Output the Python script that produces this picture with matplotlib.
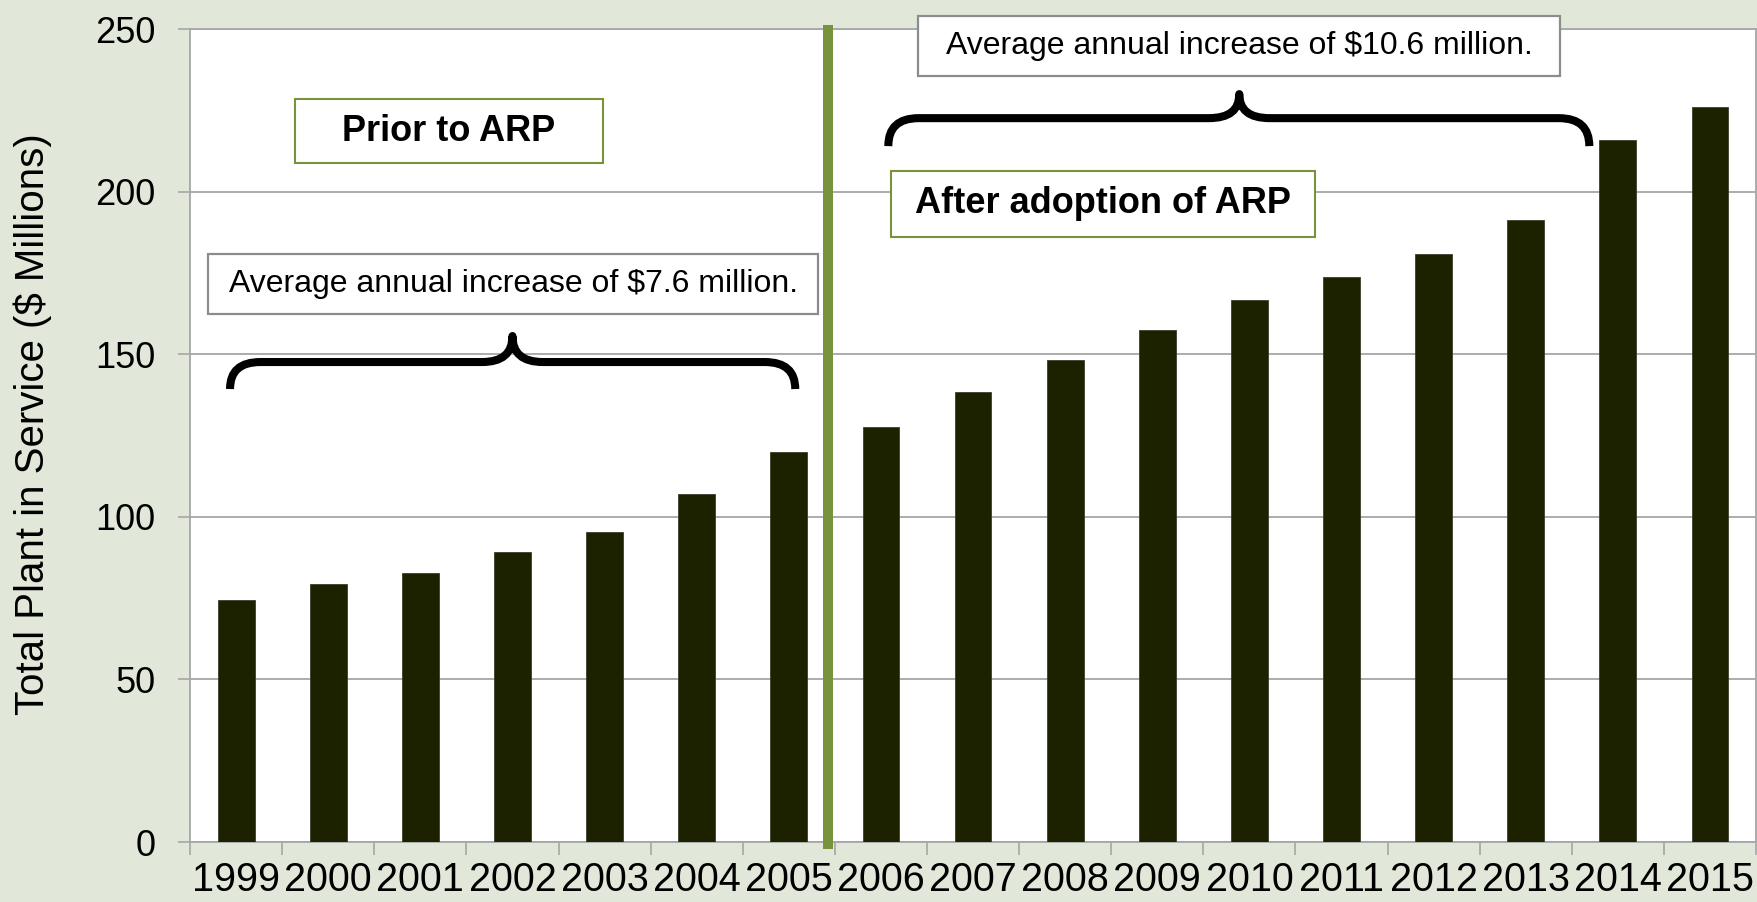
import matplotlib.pyplot as plt
from matplotlib.path import Path
from matplotlib.patches import PathPatch, Rectangle
import numpy as np

plt.rcParams['font.family'] = ['Liberation Sans', 'DejaVu Sans']

years = ["1999", "2000", "2001", "2002", "2003", "2004", "2005", "2006", "2007",
         "2008", "2009", "2010", "2011", "2012", "2013", "2014", "2015"]
plant = [74.5, 79.3, 82.8, 89.3, 95.2, 106.9, 120.0, 127.6, 138.3,
         148.3, 157.6, 166.6, 173.8, 180.7, 191.4, 215.9, 225.9]

bg = "#e1e8da"
olive = "#77933c"
grey = "#a6a6a6"

fig = plt.figure(figsize=(17.58, 9.02), dpi=100, facecolor=bg)
ax = fig.add_axes([0.1081, 0.0665, 0.8908, 0.9013])
ax.set_facecolor("white")

x = np.arange(len(years))
ax.bar(x, plant, width=0.4, color="#1c2200", edgecolor="#3a3f2a", linewidth=0.6, zorder=3)

ax.set_xlim(-0.5, len(years) - 0.5)
ax.set_ylim(0, 250)
ax.set_yticks(range(0, 251, 50))
ax.set_xticks(x)
ax.set_xticklabels(years)
ax.set_xticks(np.arange(-0.5, len(years), 1), minor=True)
ax.tick_params(axis="x", which="major", length=0, labelsize=28.5, pad=14)
ax.tick_params(axis="x", which="minor", length=9.4, width=1.2, color=grey, direction="out")
ax.tick_params(axis="y", length=8.6, width=1.2, color=grey, labelsize=26, pad=16)
ax.grid(axis="y", color=grey, linewidth=1.3, zorder=0)
for s in ax.spines.values():
    s.set_color(grey)
    s.set_linewidth(1.3)

ax.set_ylabel("Total Plant in Service ($ Millions)", fontsize=29)
ax.yaxis.set_label_coords(-0.088, 0.514)

# divider between the two periods
ax.plot([6.43, 6.43], [-2.2, 251.2], color=olive, linewidth=7.2,
        solid_capstyle="butt", clip_on=False, zorder=5)


def brace(x0, x1, xc, y_tip, y_bar, y_pt, r=0.33):
    verts = [(x0, y_tip), (x0, y_bar), (x0 + r, y_bar),
             (xc - r, y_bar), (xc, y_bar), (xc, y_pt),
             (xc, y_bar), (xc + r, y_bar),
             (x1 - r, y_bar), (x1, y_bar), (x1, y_tip)]
    codes = [Path.MOVETO, Path.CURVE3, Path.CURVE3,
             Path.LINETO, Path.CURVE3, Path.CURVE3,
             Path.CURVE3, Path.CURVE3,
             Path.LINETO, Path.CURVE3, Path.CURVE3]
    p = PathPatch(Path(verts, codes), fill=False, edgecolor="black", linewidth=5.8,
                  capstyle="butt", joinstyle="round", zorder=6, clip_on=False)
    ax.add_patch(p)


def label_box(cx, cy, w, h, text, edge, lw, size, weight="normal"):
    ax.add_patch(Rectangle((cx - w / 2, cy - h / 2), w, h, facecolor="white",
                           edgecolor=edge, linewidth=lw, zorder=6, clip_on=False))
    ax.text(cx, cy, text, ha="center", va="center", fontsize=size,
            fontweight=weight, zorder=7)


brace(-0.066, 6.07, 3.0, 139.3, 147.6, 155.6)
brace(7.08, 14.69, 10.89, 214.0, 222.6, 230.0)

label_box(2.31, 218.6, 3.35, 19.7, "Prior to ARP", olive, 1.5, 26, "bold")
label_box(9.41, 196.2, 4.60, 20.0, "After adoption of ARP", olive, 1.5, 26, "bold")
label_box(3.006, 171.6, 6.62, 18.45, "Average annual increase of $7.6 million.", "#8c8c8c", 1.6, 23)
label_box(10.89, 244.8, 6.97, 18.45, "Average annual increase of $10.6 million.", "#8c8c8c", 1.6, 23)

fig.savefig("out.png", dpi=100, facecolor=bg)
